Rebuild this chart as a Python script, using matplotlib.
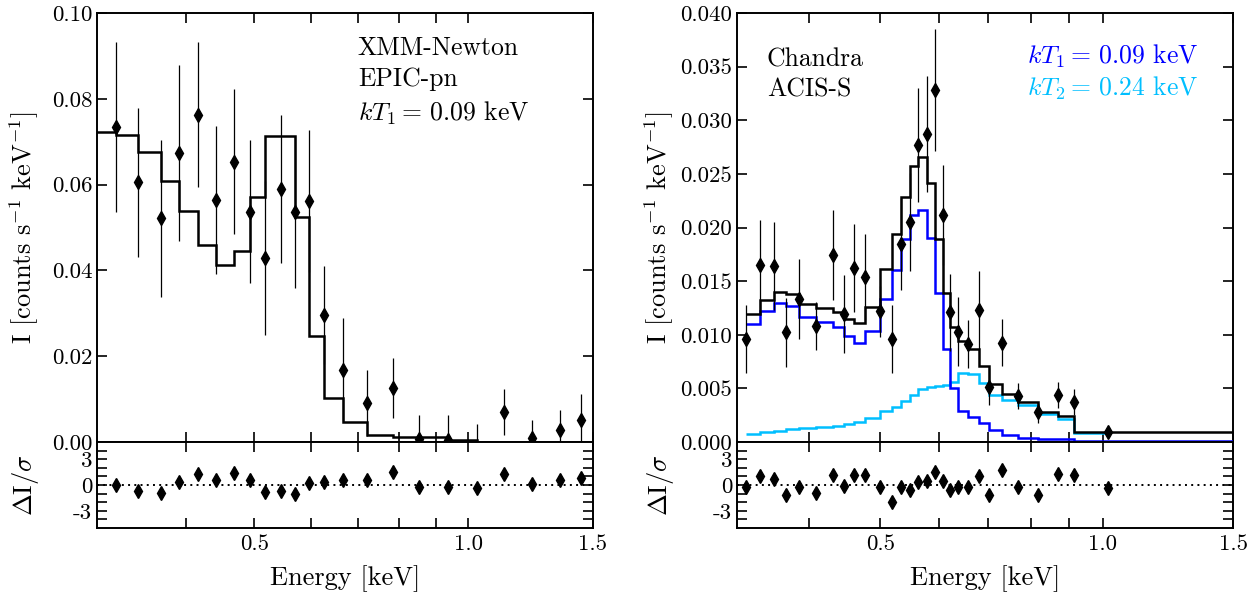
import matplotlib.pyplot as plt
from matplotlib.ticker import NullLocator

plt.rcParams["font.family"] = "serif"
plt.rcParams["font.serif"] = ["cmr10"]
plt.rcParams["mathtext.fontset"] = "cm"
plt.rcParams["axes.unicode_minus"] = False
plt.rcParams["axes.formatter.use_mathtext"] = True

# XMM-Newton EPIC-pn spectrum
xmm_energy = [0.319, 0.343, 0.369, 0.392, 0.416, 0.442, 0.468, 0.493, 0.518, 0.545, 0.570, 0.596,
              0.627, 0.667, 0.721, 0.783, 0.854, 0.938, 1.029, 1.122, 1.230, 1.348, 1.444]
xmm_rate = [0.0735, 0.0605, 0.0521, 0.0674, 0.0763, 0.0564, 0.0653, 0.0537, 0.0429, 0.0590, 0.0537, 0.0562,
            0.0296, 0.0168, 0.0091, 0.0125, 0.0006, 0.0005, -0.0015, 0.0070, 0.0010, 0.0029, 0.0051]
xmm_err = [0.0198, 0.0173, 0.0182, 0.0205, 0.0169, 0.0172, 0.0169, 0.0166, 0.0180, 0.0173, 0.0177, 0.0166,
           0.0114, 0.0120, 0.0076, 0.0070, 0.0057, 0.0059, 0.0057, 0.0053, 0.0041, 0.0045, 0.0060]
xmm_resid = [0.05, -0.7, -0.9, 0.3, 1.3, 0.55, 1.4, 0.55, -0.8, -0.75, -1.0, 0.2,
             0.4, 0.55, 0.55, 1.5, -0.25, -0.25, -0.4, 1.3, 0.15, 0.6, 0.8]
xmm_model_edges = [0.29, 0.319, 0.343, 0.369, 0.392, 0.416, 0.442, 0.468, 0.493, 0.518, 0.570, 0.596,
                   0.627, 0.667, 0.721, 0.783, 0.938, 1.029, 1.6]
xmm_model = [0.0722, 0.0716, 0.0675, 0.0609, 0.0538, 0.0460, 0.0412, 0.0445, 0.0572, 0.0713, 0.0524,
             0.0247, 0.0102, 0.0047, 0.0016, 0.0011, 0.0004, 0.0]

# Chandra ACIS-S spectrum
chandra_energy = [0.3295, 0.344, 0.359, 0.373, 0.388, 0.409, 0.432, 0.446, 0.461, 0.476, 0.499, 0.519,
                  0.534, 0.548, 0.563, 0.578, 0.592, 0.607, 0.622, 0.637, 0.658, 0.680, 0.702, 0.730,
                  0.768, 0.818, 0.869, 0.913, 1.016]
chandra_rate = [0.0096, 0.01647, 0.0164, 0.01023, 0.01333, 0.01082, 0.01747, 0.01193, 0.01622, 0.01538,
                0.01219, 0.0096, 0.01849, 0.02051, 0.02772, 0.02875, 0.03282, 0.02117, 0.01209, 0.01029,
                0.00914, 0.01231, 0.00516, 0.00926, 0.00432, 0.00277, 0.00438, 0.00376, 0.0009]
chandra_err = [0.0032, 0.0042, 0.0041, 0.0032, 0.0037, 0.0022, 0.0042, 0.0036, 0.0041, 0.0040,
               0.0024, 0.0032, 0.0043, 0.0046, 0.0053, 0.0054, 0.0057, 0.0047, 0.0036, 0.0032,
               0.0022, 0.0036, 0.0017, 0.0022, 0.0012, 0.0010, 0.0012, 0.0012, 0.0003]
chandra_resid = [-0.19, 1.09, 0.74, -1.16, -0.19, -0.89, 1.16, -0.12, 1.16, 1.12, -0.23, -2.0,
                 -0.23, -0.58, 0.31, 0.43, 1.47, 0.43, -0.54, -0.23, -0.19, 1.05, -1.16, 1.74,
                 -0.23, -1.16, 1.24, 1.16, -0.31]
chandra_total = [0.01191, 0.01324, 0.01396, 0.0138, 0.01287, 0.01252, 0.01212, 0.01147, 0.01107, 0.01259,
                 0.01613, 0.0194, 0.02287, 0.02577, 0.0266, 0.02418, 0.0189, 0.01386, 0.0107, 0.00942,
                 0.00864, 0.00709, 0.00544, 0.00448, 0.00376, 0.00283, 0.00245, 0.00096]
chandra_kt1 = [0.0110, 0.01224, 0.01293, 0.01268, 0.01168, 0.01116, 0.01072, 0.00991, 0.00926, 0.01032,
               0.01333, 0.01604, 0.0189, 0.02117, 0.02163, 0.01899, 0.01386, 0.00864, 0.0050, 0.00292,
               0.00236, 0.0018, 0.00112, 0.00062, 0.0004, 0.00025, 0.00025, 0.0001]
chandra_kt2 = [0.00072, 0.0009, 0.00106, 0.00118, 0.00128, 0.0014, 0.00152, 0.00171, 0.0019, 0.00227,
               0.00292, 0.00329, 0.00385, 0.00438, 0.00491, 0.00516, 0.00522, 0.00531, 0.00562, 0.00641,
               0.00634, 0.00547, 0.00438, 0.00392, 0.00345, 0.00261, 0.00212, 0.00087]
chandra_edges_full = chandra_energy[:28] + [1.6]

x_ticks = [0.4, 0.5, 0.6, 0.7, 0.8, 0.9, 1.0, 1.5]
x_labels = ["", "0.5", "", "", "", "", "1.0", "1.5"]

TICK_FS = 16.5
LABEL_FS = 19
TEXT_FS = 18.5


def style_axes(ax):
    for sp in ax.spines.values():
        sp.set_linewidth(1.4)
    ax.tick_params(which="both", direction="in", top=True, right=True,
                   length=7, width=1.2, labelsize=TICK_FS)


def setup_panel(left, xmin, rate_ticks, fmt):
    main = fig.add_axes([left, 0.2559, 0.3952, 0.7222])
    res = fig.add_axes([left, 0.1111, 0.3952, 0.1448], sharex=main)
    main.set_xscale("log")
    main.set_xlim(xmin, 1.5)
    main.set_xticks(x_ticks)
    main.set_xticklabels(x_labels)
    main.xaxis.set_minor_locator(NullLocator())
    main.tick_params(labelbottom=False)
    main.set_ylim(rate_ticks[0], rate_ticks[-1])
    main.set_yticks(rate_ticks)
    main.set_yticklabels([fmt % v for v in rate_ticks])
    res.set_ylim(-5, 5)
    res.set_yticks([-4, -3, -2, -1, 0, 1, 2, 3, 4])
    res.set_yticklabels(["", "-3", "", "", "0", "", "", "3", ""])
    res.axhline(0, color="black", ls=":", lw=1.4, dashes=(1, 2.2))
    style_axes(main)
    style_axes(res)
    res.tick_params(axis="x", pad=5)
    main.set_ylabel(r"I [counts s$^{-1}$ keV$^{-1}$]", fontsize=LABEL_FS)
    res.set_ylabel(r"$\Delta$I/$\sigma$", fontsize=LABEL_FS)
    res.set_xlabel("Energy [keV]", fontsize=LABEL_FS, labelpad=8)
    return main, res


def draw_points(main, res, energy, rate, err, resid):
    main.errorbar(energy, rate, yerr=err, fmt="d", color="black", ms=7,
                  elinewidth=0.9, capsize=0, zorder=5)
    res.plot(energy, resid, "d", color="black", ms=7, zorder=5)


fig = plt.figure(figsize=(12.55, 5.94), dpi=100)

# left panel
ax1, ax1r = setup_panel(0.0773, 0.3, [0.0, 0.02, 0.04, 0.06, 0.08, 0.10], "%.2f")
ax1.stairs(xmm_model, xmm_model_edges, baseline=None, color="black", lw=1.8, zorder=3)
draw_points(ax1, ax1r, xmm_energy, xmm_rate, xmm_err, xmm_resid)
ax1.text(0.526, 0.945, "XMM-Newton\nEPIC-pn\n$kT_1 = \\,0.09$ keV", transform=ax1.transAxes,
         ha="left", va="top", fontsize=TEXT_FS, linespacing=1.38)

# right panel
ax2, ax2r = setup_panel(0.5873, 0.32, [0.0, 0.005, 0.010, 0.015, 0.020, 0.025, 0.030, 0.035, 0.040], "%.3f")
ax2.stairs(chandra_kt2, chandra_energy, baseline=None, color="deepskyblue", lw=1.8, zorder=2)
ax2.stairs(chandra_kt1, chandra_edges_full, baseline=None, color="blue", lw=1.8, zorder=3)
ax2.stairs(chandra_total, chandra_edges_full, baseline=None, color="black", lw=1.8, zorder=4)
draw_points(ax2, ax2r, chandra_energy, chandra_rate, chandra_err, chandra_resid)
ax2.text(0.06, 0.918, "Chandra\nACIS-S", transform=ax2.transAxes,
         ha="left", va="top", fontsize=TEXT_FS, linespacing=1.3)
ax2.text(0.93, 0.932, "$kT_1 = \\,0.09$ keV", transform=ax2.transAxes,
         ha="right", va="top", fontsize=TEXT_FS, color="blue")
ax2.text(0.93, 0.857, "$kT_2 = \\,0.24$ keV", transform=ax2.transAxes,
         ha="right", va="top", fontsize=TEXT_FS, color="deepskyblue")

for a in (ax1, ax1r):
    a.yaxis.set_label_coords(-0.112, 0.5)
for a in (ax2, ax2r):
    a.yaxis.set_label_coords(-0.124, 0.5)

fig.savefig("out.png", dpi=100)
